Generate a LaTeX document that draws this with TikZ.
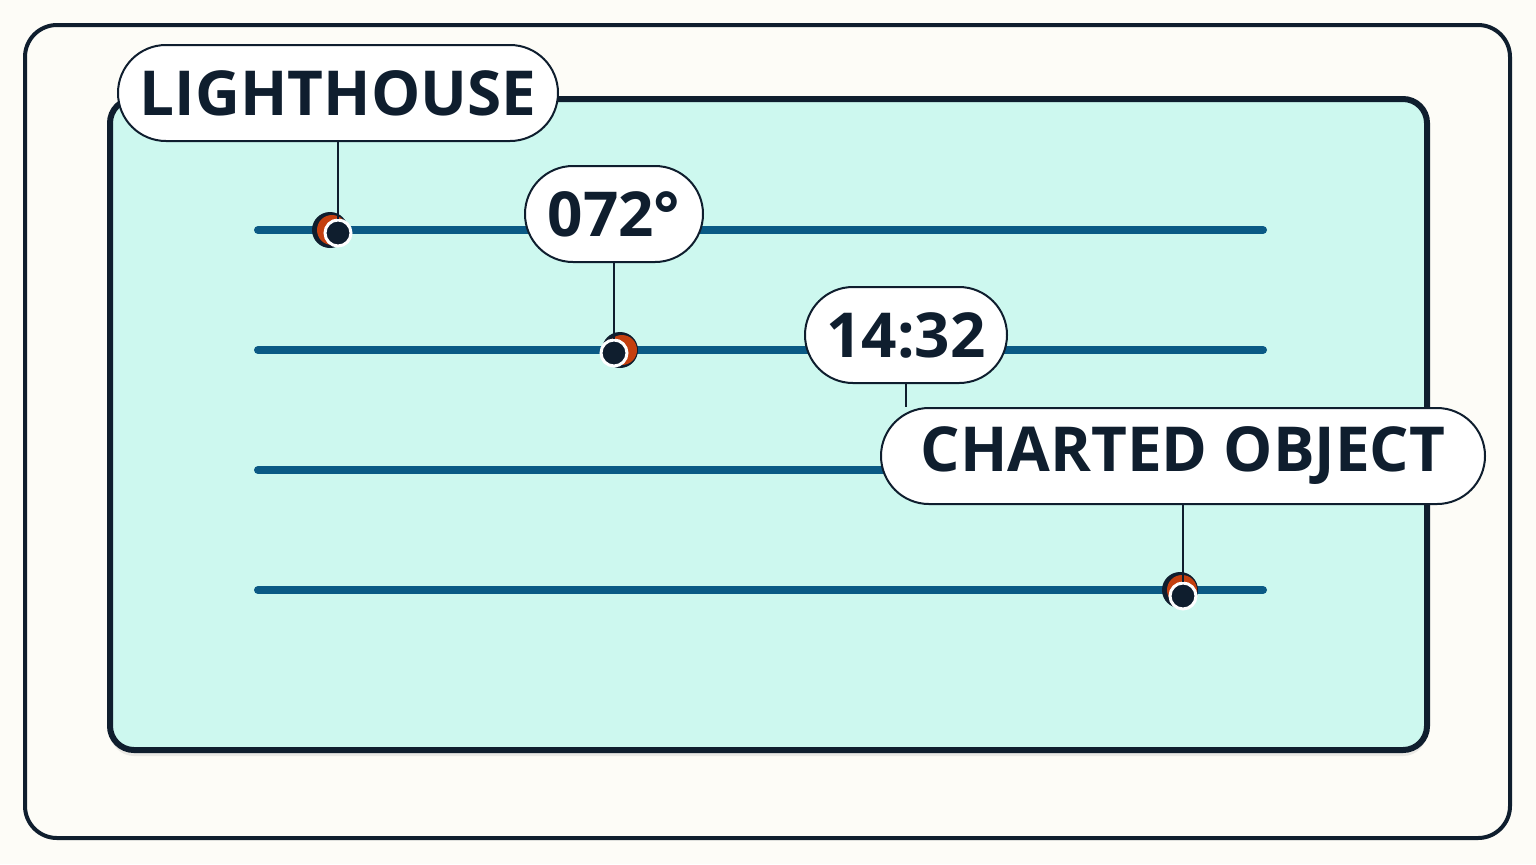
\documentclass[tikz,border=0pt]{standalone}
\usepackage{fontspec}
\setmainfont{Open Sans}
\usetikzlibrary{shadows,positioning,calc}
\definecolor{ink}{HTML}{0F1E2E}
\definecolor{paper}{HTML}{FDFCF7}
\definecolor{mint}{HTML}{CDF8EF}
\definecolor{track}{HTML}{0A5A85}
\definecolor{rust}{HTML}{C4400F}
\tikzset{
  tag/.style={draw=ink, line width=1pt, fill=white, rounded corners=24pt, minimum height=48pt,
    inner xsep=0pt, font=\fontsize{31}{31}\selectfont\bfseries, text=ink},
  rail/.style={track, line width=4pt, line cap=round},
  leader/.style={ink, line width=1pt}
}
% marker: halo + orange crescent + ringed dot
\newcommand{\buoy}[3]{%
  \fill[ink] ($(#1)-(#2)$) circle (9pt);
  \fill[rust] ($(#1)-(#2)+(1pt,0)$) circle (7.5pt);
  \node[circle, fill=ink, draw=white, line width=1.5pt, inner sep=0pt, minimum size=13pt] (#3) at (#1) {};}
\begin{document}
\begin{tikzpicture}[x=0.5pt,y=-0.5pt]
    % Frame and panel
    \fill[paper] (0,0) rectangle (1536,864);
    \draw[ink, line width=2pt, rounded corners=16pt] (25,25) rectangle (1510,838);
    \draw[ink, line width=3pt, fill=mint, rounded corners=12pt, drop shadow={shadow xshift=0pt, shadow yshift=-3pt, opacity=0.15}] (110,99) rectangle (1427,750);

    % Rails
    \foreach \y in {230,350,470,590}
        \draw[rail] (258,\y) -- (1263,\y);

    % Markers
    \buoy{338,233}{8,3}{m1}
    \buoy{614,353}{-6,3}{m2}
    \buoy{1183,596}{3,6}{m4}

    % Labels
    \node[tag, minimum width=220pt] (lighthouse) at (338,93) {LIGHTHOUSE};
    \node[tag, minimum width=89pt] (bearing) at (614,214) {072°};
    \node[tag, minimum width=101pt] (time) at (906,335) {14:32};
    \node[tag, minimum width=302pt] (object) at (1183,456) {CHARTED OBJECT};

    % Leaders
    \draw[leader] (lighthouse.south) -- (m1);
    \draw[leader] (bearing.south) -- (m2);
    \draw[leader] (time.south) -- (object.north -| time.south);
    \draw[leader] (object.south) -- (m4);
\end{tikzpicture}
\end{document}
